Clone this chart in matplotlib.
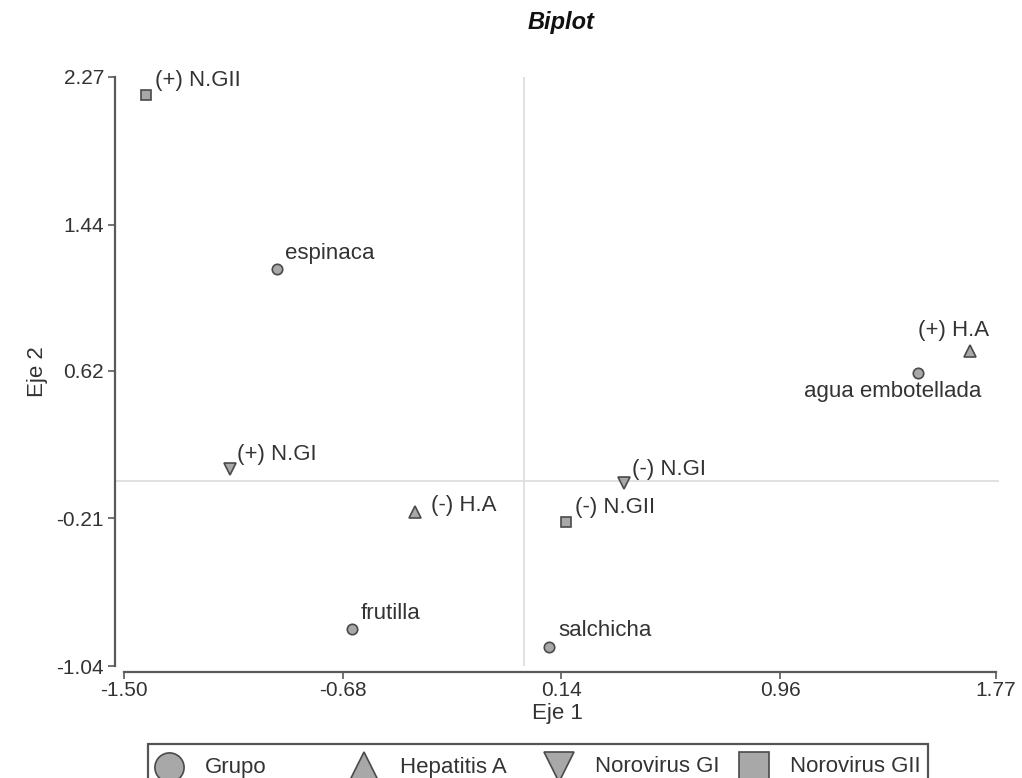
import matplotlib.pyplot as plt
from matplotlib.lines import Line2D
from matplotlib.patches import Rectangle

plt.rcParams['font.family'] = ['Liberation Sans', 'DejaVu Sans']

# biplot coordinates (Eje 1, Eje 2)
grupo_names = ['espinaca', 'frutilla', 'salchicha', 'agua embotellada']
grupo_x = [-0.926, -0.645, 0.094, 1.477]
grupo_y = [1.189, -0.834, -0.934, 0.606]

hepa_names = ['(+) H.A', '(-) H.A']
hepa_x = [1.672, -0.409]
hepa_y = [0.729, -0.173]

ngi_names = ['(+) N.GI', '(-) N.GI']
ngi_x = [-1.103, 0.375]
ngi_y = [0.068, -0.010]

ngii_names = ['(+) N.GII', '(-) N.GII']
ngii_x = [-1.418, 0.157]
ngii_y = [2.169, -0.229]

x_ticks = [-1.50, -0.68, 0.14, 0.96, 1.77]
y_ticks = [-1.04, -0.21, 0.62, 1.44, 2.27]

legend_labels = ['Grupo', 'Hepatitis A', 'Norovirus GI', 'Norovirus GII']
legend_markers = ['o', '^', 'v', 's']

FILL = '#a8a8a8'
EDGE = '#4a4a4a'
TXT = '#333333'
AXC = '#5a5a5a'

fig = plt.figure(figsize=(10.22, 7.78), dpi=100)
ax = fig.add_axes([115 / 1022, 1 - 666 / 778, 884 / 1022, 589 / 778])

# reference lines through the origin
ax.axhline(0, color='#dcdcdc', lw=1.2, zorder=1)
ax.axvline(0, color='#dcdcdc', lw=1.2, zorder=1)

series = [
    (grupo_x, grupo_y, 'o', 7.5),
    (hepa_x, hepa_y, '^', 8.5),
    (ngi_x, ngi_y, 'v', 8.5),
    (ngii_x, ngii_y, 's', 7.5),
]
for xs, ys, m, ms in series:
    ax.plot(xs, ys, ls='none', marker=m, ms=ms, mfc=FILL, mec=EDGE, mew=1.2,
            zorder=3, clip_on=False)

# point labels: (offset x, offset y, ha, va) in pixels
label_pos = {
    'espinaca': (8, 5, 'left', 'bottom'),
    'frutilla': (9, 5, 'left', 'bottom'),
    'salchicha': (9, 6, 'left', 'bottom'),
    'agua embotellada': (-25, -8, 'center', 'top'),
    '(+) H.A': (19, 10, 'right', 'bottom'),
    '(-) H.A': (16, -4, 'left', 'bottom'),
    '(+) N.GI': (7, 4, 'left', 'bottom'),
    '(-) N.GI': (8, 3, 'left', 'bottom'),
    '(+) N.GII': (9, 4, 'left', 'bottom'),
    '(-) N.GII': (9, 4, 'left', 'bottom'),
}
for names, xs, ys in [(grupo_names, grupo_x, grupo_y), (hepa_names, hepa_x, hepa_y),
                      (ngi_names, ngi_x, ngi_y), (ngii_names, ngii_x, ngii_y)]:
    for n, x, y in zip(names, xs, ys):
        dx, dy, ha, va = label_pos[n]
        ax.annotate(n, (x, y), xytext=(dx, dy), textcoords='offset pixels',
                    ha=ha, va=va, fontsize=16, color=TXT)

ax.set_xlim(-1.534, 1.781)
ax.set_ylim(-1.04, 2.27)
ax.set_xticks(x_ticks)
ax.set_xticklabels([f'{v:.2f}' for v in x_ticks])
ax.set_yticks(y_ticks)
ax.set_yticklabels([f'{v:.2f}' for v in y_ticks])

for s in ['top', 'right']:
    ax.spines[s].set_visible(False)
for s in ['left', 'bottom']:
    ax.spines[s].set_color(AXC)
    ax.spines[s].set_linewidth(1.6)
ax.spines['bottom'].set_bounds(-1.50, 1.77)
ax.spines['bottom'].set_position(('outward', 4))
ax.tick_params(colors=AXC, labelcolor=TXT, labelsize=15, length=5, width=1.2, pad=3)
ax.tick_params(axis='x', pad=2)

ax.set_xlabel('Eje 1', fontsize=16, color=TXT, labelpad=2)
ax.set_ylabel('Eje 2', fontsize=16, color=TXT, labelpad=6)

fig.text(561 / 1022, 1 - 23 / 778, 'Biplot', ha='center', va='center',
         fontsize=17, fontweight='bold', fontstyle='italic', color='#111111')

# legend strip along the bottom
fig.patches.append(Rectangle((148 / 1022, -0.02), 780 / 1022, 0.02 + 34 / 778,
                             transform=fig.transFigure, fill=False,
                             ec='#555555', lw=1.6))
for i, (lab, m) in enumerate(zip(legend_labels, legend_markers)):
    cx = (169 + 195 * i) / 1022
    cy = 1 - 767 / 778
    fig.add_artist(Line2D([cx], [cy], transform=fig.transFigure, ls='none',
                          marker=m, ms=21, mfc=FILL, mec=EDGE, mew=1.2))
    fig.text(cx + 36 / 1022, cy, lab, ha='left', va='center', fontsize=16, color=TXT)

fig.savefig('out.png', dpi=100)
